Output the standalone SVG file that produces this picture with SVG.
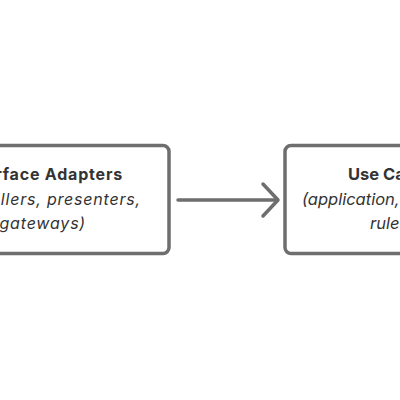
<svg xmlns="http://www.w3.org/2000/svg" width="400" height="400" viewBox="0 0 400 400">
<style>
.box{fill:#ffffff;stroke:#6e6e6e;stroke-width:3.5}
.t{font-family:Inter,"Noto Sans",sans-serif;font-size:16px;fill:#333333}
.w{letter-spacing:0.8px}
.n{font-size:16.5px}
.e{text-anchor:end}
.s{text-anchor:start}
.b{font-weight:bold}
.i{font-style:italic}
.c{fill:none;stroke:#6e6e6e;stroke-width:3.5;stroke-linecap:round;stroke-linejoin:round}
</style>
<rect width="400" height="400" fill="#ffffff"/>
<g id="interface-adapters">
<rect class="box" x="-76" y="145.5" width="245" height="108" rx="6"/>
<text class="t w b e" x="123" y="180">Interface Adapters</text>
<text class="t w i e" x="141" y="205">(controllers, presenters,</text>
<text class="t w i e" x="86" y="229">gateways)</text>
</g>
<g id="use-cases">
<rect class="box" x="285" y="145.5" width="206" height="108" rx="6"/>
<text class="t n b s" x="348" y="180">Use Cases</text>
<text class="t n i s" x="302" y="205">(application, business</text>
<text class="t n i s" x="370" y="229">rules)</text>
</g>
<g id="connectors">
<path class="c" d="M178 200 H277"/>
<path class="c" d="M263 184 L278 200 L263 216"/>
</g>
</svg>
